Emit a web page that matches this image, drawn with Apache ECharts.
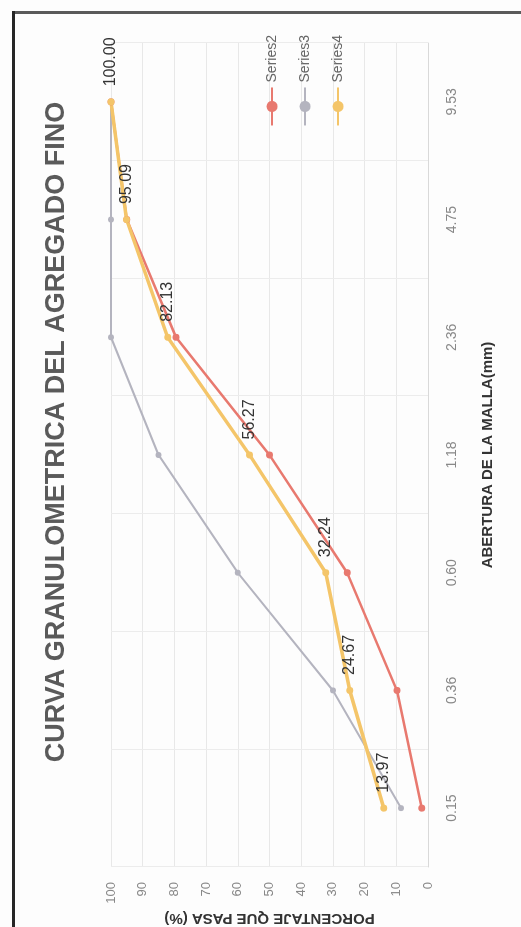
<!DOCTYPE html>
<html>
<head>
<meta charset="utf-8">
<title>Curva granulometrica</title>
<script src="https://cdn.jsdelivr.net/npm/echarts@6/dist/echarts.min.js"></script>
<style>
    html, body { margin: 0; padding: 0; background: #ffffff; }
    #hoja { position: absolute; left: 0; top: 0; width: 521px; height: 927px; overflow: hidden; background: #fdfdfd; }
    /* bordes del papel escaneado */
    #bordeArriba { position: absolute; left: 12px; top: 11px; width: 509px; height: 3px; background: #5a5a5a; }
    #bordeIzq { position: absolute; left: 12px; top: 11px; width: 3px; height: 916px; background: #262626; }
    /* la grafica esta girada 90 grados como en la foto */
    #curva { position: absolute; left: 0; top: 927px; width: 927px; height: 521px; transform-origin: 0 0; transform: rotate(-90deg); }
</style>
</head>
<body>
<div id="hoja">
    <div id="curva"></div>
    <div id="bordeArriba"></div>
    <div id="bordeIzq"></div>
</div>
<script>
// abertura de la malla (mm)
var aberturas = ['0.15', '0.36', '0.60', '1.18', '2.36', '4.75', '9.53'];
// porcentaje que pasa (%)
var serie2 = [2.0, 9.8, 25.5, 50.0, 79.5, 95.0, 100.0];
var serie3 = [8.5, 30.0, 60.0, 85.0, 100.0, 100.0, 100.0];
var serie4 = [13.97, 24.67, 32.24, 56.27, 82.13, 95.09, 100.00];
var ejeMin = 0, ejeMax = 100, ejePaso = 10;

var curvaChart = echarts.init(document.getElementById('curva'));
curvaChart.setOption({
    animation: false,
    textStyle: {
        fontFamily: 'Liberation Sans, Arial, sans-serif'
    },
    title: {
        text: 'CURVA GRANULOMETRICA DEL AGREGADO FINO',
        left: 490,
        top: 38,
        textAlign: 'center',
        textStyle: {
            fontSize: 27,
            fontWeight: 'bold',
            color: '#5a5a5a'
        }
    },
    legend: {
        orient: 'vertical',
        right: 30,
        top: 260,
        itemWidth: 38,
        itemHeight: 14,
        itemGap: 19,
        data: ['Series2', 'Series3', 'Series4'],
        textStyle: {
            fontSize: 14,
            color: '#666'
        }
    },
    grid: {
        left: 60,
        right: 43,
        top: 111,
        bottom: 93,
        outerBoundsMode: 'none'
    },
    xAxis: {
        type: 'category',
        data: aberturas,
        boundaryGap: true,
        name: 'ABERTURA DE LA MALLA(mm)',
        nameLocation: 'middle',
        nameGap: 52,
        nameTextStyle: {
            fontSize: 15,
            fontWeight: 'bold',
            color: '#333'
        },
        axisLine: { lineStyle: { color: '#d9d9d9' } },
        axisTick: { show: false },
        axisLabel: {
            fontSize: 14,
            margin: 17,
            color: '#888'
        },
        splitLine: {
            show: true,
            lineStyle: { color: '#ececec' }
        }
    },
    yAxis: {
        type: 'value',
        min: ejeMin,
        max: ejeMax,
        interval: ejePaso,
        name: 'PORCENTAJE QUE PASA (%)',
        nameLocation: 'middle',
        nameGap: 44,
        nameMoveOverlap: false,
        nameTextStyle: {
            fontSize: 15,
            fontWeight: 'bold',
            color: '#333'
        },
        axisLine: { show: false },
        axisTick: { show: false },
        axisLabel: {
            fontSize: 13,
            margin: 15,
            color: '#888'
        },
        splitLine: {
            lineStyle: { color: '#e8e8e8' }
        }
    },
    series: [{
        name: 'Series2',
        type: 'line',
        data: serie2,
        symbol: 'circle',
        symbolSize: 7,
        lineStyle: { color: '#e8796f', width: 2.5 },
        itemStyle: { color: '#e8796f' }
    }, {
        name: 'Series3',
        type: 'line',
        data: serie3,
        symbol: 'circle',
        symbolSize: 6,
        lineStyle: { color: '#b4b4bf', width: 2 },
        itemStyle: { color: '#b4b4bf' }
    }, {
        name: 'Series4',
        type: 'line',
        data: serie4,
        symbol: 'circle',
        symbolSize: 7,
        lineStyle: { color: '#f4c569', width: 3.5 },
        itemStyle: { color: '#f4c569' },
        label: {
            show: true,
            position: 'right',
            distance: 12,
            fontSize: 16,
            color: '#333',
            formatter: function (d) {
                return d.value.toFixed(2);
            }
        }
    }]
});
</script>
</body>
</html>
